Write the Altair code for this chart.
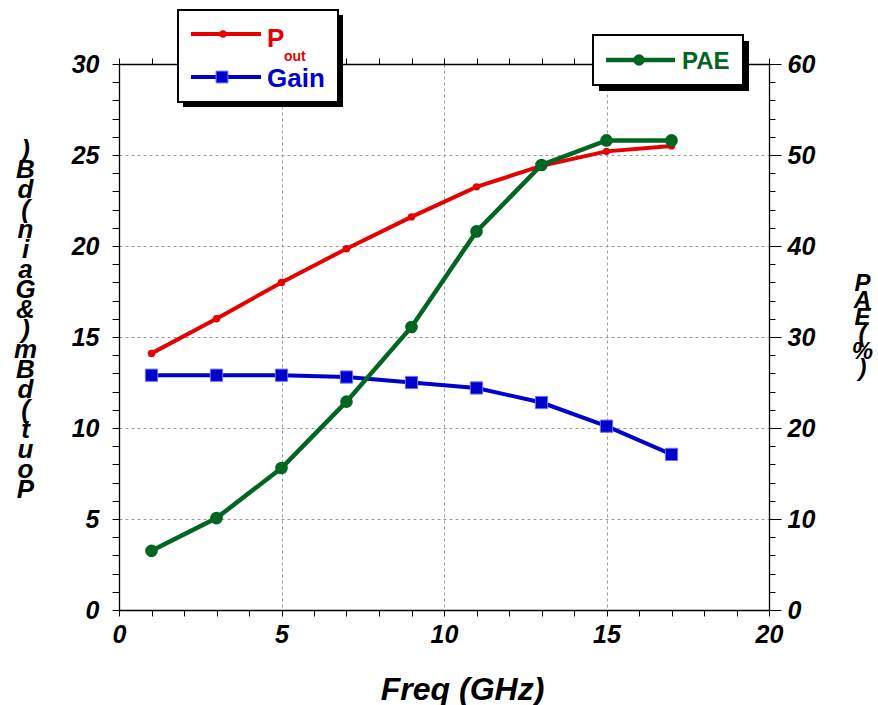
import altair as alt
import pandas as pd

# ---- data ----
freq = [1, 3, 5, 7, 9, 11, 13, 15, 17]
pout = [14.1, 16.0, 18.0, 19.85, 21.6, 23.25, 24.4, 25.2, 25.5]
gain = [12.9, 12.9, 12.9, 12.8, 12.5, 12.2, 11.4, 10.1, 8.55]
pae = [6.5, 10.1, 15.6, 22.9, 31.1, 41.6, 48.9, 51.6, 51.6]

x_ticks = list(range(0, 21))
left_ticks = list(range(0, 31))
right_ticks = list(range(0, 61, 2))

left_title = [")", "B", "d", "(", "n", "i", "a", "G", "&", ")", "m", "B", "d", "(", "t", "u", "o", "P"]
right_title = ["P", "A", "E", "(", "%", ")"]

RED = "#e60000"
BLUE = "#0000cc"
GREEN = "#006622"
FONT = "Liberation Sans"

df = pd.DataFrame({"freq": freq, "pout": pout, "gain": gain, "pae": pae})
one = pd.DataFrame({"k": [0]})

xscale = alt.Scale(domain=[0, 20], nice=False, zero=False)
lscale = alt.Scale(domain=[0, 30], nice=False, zero=False)
rscale = alt.Scale(domain=[0, 60], nice=False, zero=False)

axis_common = dict(
    labelFont=FONT, labelFontSize=25, labelFontWeight="bold", labelFontStyle="italic",
    labelColor="black", tickColor="black", domainColor="black", tickWidth=1, domainWidth=1.3,
    titleFont=FONT, titleFontWeight="bold", titleFontStyle="italic", titleColor="black",
)

x_bottom_axis = alt.Axis(
    values=x_ticks, labelExpr="datum.value % 5 == 0 ? datum.label : ''",
    tickSize=6, labelPadding=6, labelFlush=False,
    grid=True, gridDash=[3, 3], gridColor="#9a9a9a", gridWidth=1,
    gridOpacity={"condition": {"test": "datum.value % 5 == 0 && datum.value > 0 && datum.value < 20", "value": 1}, "value": 0},
    title="Freq (GHz)", titleFontSize=32, titleX=343, titleY=89, titleAlign="center",
    titleBaseline="alphabetic", **axis_common,
)
x_top_axis = alt.Axis(orient="top", values=x_ticks, labels=False, tickSize=6, grid=False, title=None,
                      tickColor="black", domainColor="black", tickWidth=1, domainWidth=1.3)

y_left_axis = alt.Axis(
    values=left_ticks, labelExpr="datum.value % 5 == 0 ? datum.label : ''",
    tickSize=7, labelPadding=13, labelFlush=False,
    grid=True, gridDash=[3, 3], gridColor="#9a9a9a", gridWidth=1,
    gridOpacity={"condition": {"test": "datum.value % 5 == 0 && datum.value > 0 && datum.value < 30", "value": 1}, "value": 0},
    title=left_title, titleAngle=0, titleFontSize=26, titleLineHeight=20,
    titleX=-94, titleY=72, titleAlign="center", titleBaseline="top", **axis_common,
)
y_right_axis = alt.Axis(
    orient="right", values=right_ticks, labelExpr="datum.value % 10 == 0 ? datum.label : ''",
    tickSize={"condition": {"test": "datum.value % 10 == 0", "value": 12}, "value": 6},
    labelPadding=6, labelFlush=False, grid=False,
    title=right_title, titleAngle=0, titleFontSize=24, titleLineHeight=17,
    titleX=93, titleY=207, titleAlign="center", titleBaseline="top", **axis_common,
)

base = alt.Chart(df)

pout_line = base.mark_line(color=RED, strokeWidth=4).encode(
    x=alt.X("freq:Q", scale=xscale, axis=x_bottom_axis),
    y=alt.Y("pout:Q", scale=lscale, axis=y_left_axis),
)
top_axis_layer = base.mark_point(opacity=0).encode(
    x=alt.X("freq:Q", scale=xscale, axis=x_top_axis),
    y=alt.Y("pout:Q", scale=lscale, axis=None),
)
pout_pts = base.mark_circle(color=RED, size=55, opacity=1).encode(
    x=alt.X("freq:Q", scale=xscale, axis=None),
    y=alt.Y("pout:Q", scale=lscale, axis=None),
)
gain_line = base.mark_line(color=BLUE, strokeWidth=4).encode(
    x=alt.X("freq:Q", scale=xscale, axis=None),
    y=alt.Y("gain:Q", scale=lscale, axis=None),
)
gain_pts = base.mark_point(shape="square", filled=True, fill=BLUE, stroke="#6f6fff",
                           strokeWidth=1, size=150, opacity=1).encode(
    x=alt.X("freq:Q", scale=xscale, axis=None),
    y=alt.Y("gain:Q", scale=lscale, axis=None),
)
pae_line = base.mark_line(color=GREEN, strokeWidth=4.5).encode(
    x=alt.X("freq:Q", scale=xscale, axis=None),
    y=alt.Y("pae:Q", scale=rscale, axis=y_right_axis),
)
pae_pts = base.mark_circle(color=GREEN, size=160, opacity=1).encode(
    x=alt.X("freq:Q", scale=xscale, axis=None),
    y=alt.Y("pae:Q", scale=rscale, axis=None),
)

# ---- legend boxes (decoration) ----
dec = alt.Chart(one)


def box(x1, x2, y1, y2, off):
    shadow = dec.mark_rect(color="black").encode(
        x=alt.value(x1 + off), x2=alt.value(x2 + off), y=alt.value(y1 + off), y2=alt.value(y2 + off))
    frame = dec.mark_rect(fill="white", stroke="black", strokeWidth=2).encode(
        x=alt.value(x1), x2=alt.value(x2), y=alt.value(y1), y2=alt.value(y2))
    return [shadow, frame]


def sample(x1, x2, y, color, width):
    return dec.mark_rule(color=color, strokeWidth=width).encode(
        x=alt.value(x1), x2=alt.value(x2), y=alt.value(y))


legend1 = box(59, 219, -54, 38, 5) + [
    sample(72, 142, -30, RED, 4),
    dec.mark_circle(color=RED, size=55, opacity=1).encode(x=alt.value(104), y=alt.value(-30)),
    dec.mark_text(text="P", color=RED, font=FONT, fontSize=26, fontWeight="bold", align="left",
                  baseline="alphabetic").encode(x=alt.value(148), y=alt.value(-17)),
    dec.mark_text(text="out", color=RED, font=FONT, fontSize=14, fontWeight="bold", align="left",
                  baseline="alphabetic").encode(x=alt.value(165), y=alt.value(-3)),
    sample(72, 142, 13, BLUE, 4),
    dec.mark_point(shape="square", filled=True, fill=BLUE, stroke="#6f6fff", strokeWidth=1,
                   size=140, opacity=1).encode(x=alt.value(103), y=alt.value(13)),
    dec.mark_text(text="Gain", color=BLUE, font=FONT, fontSize=26, fontWeight="bold", align="left",
                  baseline="alphabetic").encode(x=alt.value(148), y=alt.value(23)),
]
legend2 = box(474, 624, -29, 21, 6) + [
    sample(487, 556, -4, GREEN, 4.5),
    dec.mark_circle(color=GREEN, size=130, opacity=1).encode(x=alt.value(520), y=alt.value(-4)),
    dec.mark_text(text="PAE", color=GREEN, font=FONT, fontSize=24, fontWeight="bold", align="left",
                  baseline="alphabetic").encode(x=alt.value(563), y=alt.value(5)),
]

chart = alt.layer(
    pout_line, top_axis_layer, pout_pts, gain_line, gain_pts, pae_line, pae_pts,
    *legend1, *legend2,
).resolve_scale(y="independent").resolve_axis(x="independent", y="independent").properties(
    width=650, height=546,
    autosize=alt.AutoSizeParams(type="none"),
    padding={"left": 119, "top": 64, "right": 109, "bottom": 95},
    background="white",
).configure_view(stroke=None)

chart.save("out.html", embed_options={"renderer": "svg", "actions": False})
